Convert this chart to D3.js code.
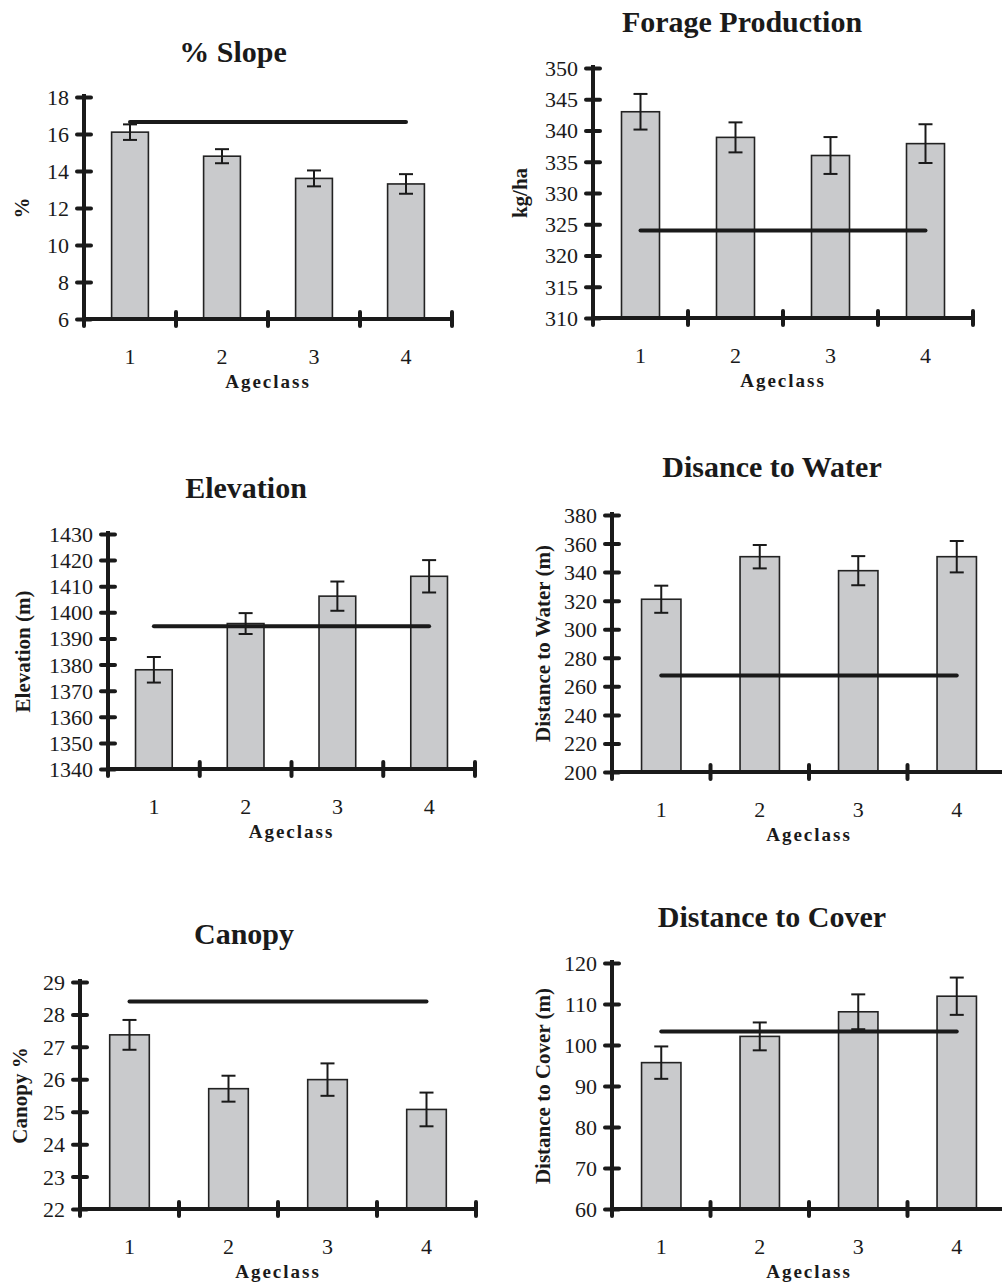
<!DOCTYPE html>
<html>
<head>
<meta charset="utf-8">
<script src="https://cdnjs.cloudflare.com/ajax/libs/d3/7.8.5/d3.min.js"></script>
<style>
  body { margin: 0; background: #fff; }
  svg text { font-family: "Liberation Serif", "Times New Roman", serif; fill: #1a1a1a; }
</style>
</head>
<body>
<div id="chartContainer"></div>
<script>
// categories shared by every panel
var ageclass = ["1", "2", "3", "4"];

// % Slope
var slopeMean = [16.1, 14.8, 13.6, 13.3];
var slopeErr = [0.42, 0.38, 0.43, 0.53];
var slopeRef = 16.65;
var slopeTicks = [6, 8, 10, 12, 14, 16, 18];

// Forage Production
var forageMean = [343.0, 338.9, 336.0, 337.9];
var forageErr = [2.85, 2.4, 2.95, 3.1];
var forageRef = 324;
var forageTicks = [310, 315, 320, 325, 330, 335, 340, 345, 350];

// Elevation
var elevMean = [1378, 1395.7, 1406.2, 1413.8];
var elevErr = [4.9, 4.0, 5.6, 6.2];
var elevRef = 1394.7;
var elevTicks = [1340, 1350, 1360, 1370, 1380, 1390, 1400, 1410, 1420, 1430];

// Disance to Water
var waterMean = [321, 350.8, 341, 350.8];
var waterErr = [9.5, 8.2, 10.2, 11];
var waterRef = 267.6;
var waterTicks = [200, 220, 240, 260, 280, 300, 320, 340, 360, 380];

// Canopy
var canopyMean = [27.37, 25.71, 25.99, 25.07];
var canopyErr = [0.46, 0.4, 0.5, 0.52];
var canopyRef = 28.4;
var canopyTicks = [22, 23, 24, 25, 26, 27, 28, 29];

// Distance to Cover
var coverMean = [95.7, 102.1, 108.1, 111.9];
var coverErr = [3.95, 3.4, 4.25, 4.55];
var coverRef = 103.3;
var coverTicks = [60, 70, 80, 90, 100, 110, 120];

var serif = '"Liberation Serif", "Times New Roman", serif';

var svg = d3.select("#chartContainer").append("svg")
    .attr("width", 1002)
    .attr("height", 1286);

// one panel = one bar chart with error bars and a horizontal reference line
function drawPanel(p){
    var g = svg.append("g");

    var x = d3.scaleBand()
        .domain(ageclass)
        .range([p.x0, p.x1])
        .paddingInner(0.6)
        .paddingOuter(0.3);
    var y = d3.scaleLinear()
        .domain([p.ticks[0], p.ticks[p.ticks.length - 1]])
        .range([p.yBot, p.yTop]);

    var rows = ageclass.map(function(c, i){
        return {cat: c, mean: p.mean[i], err: p.err[i]};
    });

    // bars
    g.selectAll("rect.bar")
      .data(rows)
      .enter()
      .append("rect")
        .attr("class", "bar")
        .attr("x", function(d){ return x(d.cat); })
        .attr("width", x.bandwidth())
        .attr("y", function(d){ return y(d.mean); })
        .attr("height", function(d){ return y.range()[0] - y(d.mean); })
        .style("fill", "#c9cacc")
        .style("stroke", "#222")
        .style("stroke-width", 1.6);

    // error bars
    var eb = g.selectAll("g.err")
      .data(rows)
      .enter()
      .append("g")
        .attr("class", "err")
        .style("stroke", "#1a1a1a")
        .style("stroke-width", 2);
    var cx = function(d){ return x(d.cat) + x.bandwidth() / 2; };
    eb.append("line")
        .attr("x1", cx).attr("x2", cx)
        .attr("y1", function(d){ return y(d.mean + d.err); })
        .attr("y2", function(d){ return y(d.mean - d.err); });
    eb.append("line")
        .attr("x1", function(d){ return cx(d) - 7; })
        .attr("x2", function(d){ return cx(d) + 7; })
        .attr("y1", function(d){ return y(d.mean + d.err); })
        .attr("y2", function(d){ return y(d.mean + d.err); });
    eb.append("line")
        .attr("x1", function(d){ return cx(d) - 7; })
        .attr("x2", function(d){ return cx(d) + 7; })
        .attr("y1", function(d){ return y(d.mean - d.err); })
        .attr("y2", function(d){ return y(d.mean - d.err); });

    // reference line from first to last category centre
    g.append("line")
        .attr("x1", cx(rows[0]))
        .attr("x2", cx(rows[rows.length - 1]))
        .attr("y1", y(p.ref))
        .attr("y2", y(p.ref))
        .style("stroke", "#1a1a1a")
        .style("stroke-width", 4)
        .style("stroke-linecap", "round");

    // y axis, ticks cross the line on both sides
    var yAxis = g.append("g")
        .attr("transform", "translate(" + p.x0 + ",0)")
        .call(d3.axisLeft(y).tickValues(p.ticks).tickFormat(d3.format("d"))
            .tickSize(7).tickPadding(8).tickSizeOuter(0))
        .attr("font-family", serif)
        .attr("font-size", 22);
    yAxis.select(".domain")
        .attr("d", "M0," + (p.yTop - 3) + "V" + p.yBot)
        .style("stroke", "#1a1a1a")
        .style("stroke-width", 4);
    yAxis.selectAll(".tick line")
        .attr("x1", 7).attr("x2", -7)
        .style("stroke", "#1a1a1a")
        .style("stroke-width", 4)
        .style("stroke-linecap", "round");
    yAxis.selectAll(".tick text")
        .attr("dy", "0.34em");

    // x axis: category labels at band centres, ticks on band edges
    var xAxis = g.append("g")
        .attr("transform", "translate(0," + p.yBot + ")")
        .call(d3.axisBottom(x).tickSize(0).tickPadding(29))
        .attr("font-family", serif)
        .attr("font-size", 22);
    xAxis.select(".domain")
        .attr("d", "M" + p.x0 + ",0H" + p.x1)
        .style("stroke", "#1a1a1a")
        .style("stroke-width", 4);
    var edges = d3.range(ageclass.length + 1).map(function(i){
        return p.x0 + i * x.step();
    });
    xAxis.selectAll("line.edge")
      .data(edges)
      .enter()
      .append("line")
        .attr("class", "edge")
        .attr("x1", function(d){ return d; })
        .attr("x2", function(d){ return d; })
        .attr("y1", -7).attr("y2", 7)
        .style("stroke", "#1a1a1a")
        .style("stroke-width", 4)
        .style("stroke-linecap", "round");

    // titles
    g.append("text")
        .attr("x", p.titleX)
        .attr("y", p.titleY)
        .attr("text-anchor", "middle")
        .style("font-size", "30px")
        .style("font-weight", "bold")
        .text(p.title);
    g.append("text")
        .attr("x", (p.x0 + p.x1) / 2)
        .attr("y", p.yBot + 69)
        .attr("text-anchor", "middle")
        .style("font-size", "19px")
        .style("font-weight", "bold")
        .style("letter-spacing", "2px")
        .text("Ageclass");
    g.append("text")
        .attr("transform", "translate(" + p.yLabelX + "," + (p.yTop + p.yBot) / 2 + ") rotate(-90)")
        .attr("text-anchor", "middle")
        .attr("dy", "0.35em")
        .style("font-size", "21px")
        .style("font-weight", "bold")
        .text(p.yLabel);
}

drawPanel({title: "% Slope", titleX: 233, titleY: 62, yLabel: "%", yLabelX: 22,
    x0: 84, x1: 452, yTop: 97, yBot: 319,
    mean: slopeMean, err: slopeErr, ref: slopeRef, ticks: slopeTicks});
drawPanel({title: "Forage Production", titleX: 742, titleY: 32, yLabel: "kg/ha", yLabelX: 520,
    x0: 593, x1: 973, yTop: 68, yBot: 318,
    mean: forageMean, err: forageErr, ref: forageRef, ticks: forageTicks});
drawPanel({title: "Elevation", titleX: 246, titleY: 498, yLabel: "Elevation (m)", yLabelX: 23,
    x0: 108, x1: 475, yTop: 534, yBot: 769,
    mean: elevMean, err: elevErr, ref: elevRef, ticks: elevTicks});
drawPanel({title: "Disance to Water", titleX: 772, titleY: 477, yLabel: "Distance to Water (m)", yLabelX: 543,
    x0: 612, x1: 1006, yTop: 515, yBot: 772,
    mean: waterMean, err: waterErr, ref: waterRef, ticks: waterTicks});
drawPanel({title: "Canopy", titleX: 244, titleY: 944, yLabel: "Canopy %", yLabelX: 20,
    x0: 80, x1: 476, yTop: 982, yBot: 1209,
    mean: canopyMean, err: canopyErr, ref: canopyRef, ticks: canopyTicks});
drawPanel({title: "Distance to Cover", titleX: 772, titleY: 927, yLabel: "Distance to Cover (m)", yLabelX: 543,
    x0: 612, x1: 1006, yTop: 963, yBot: 1209,
    mean: coverMean, err: coverErr, ref: coverRef, ticks: coverTicks});
</script>
</body>
</html>
